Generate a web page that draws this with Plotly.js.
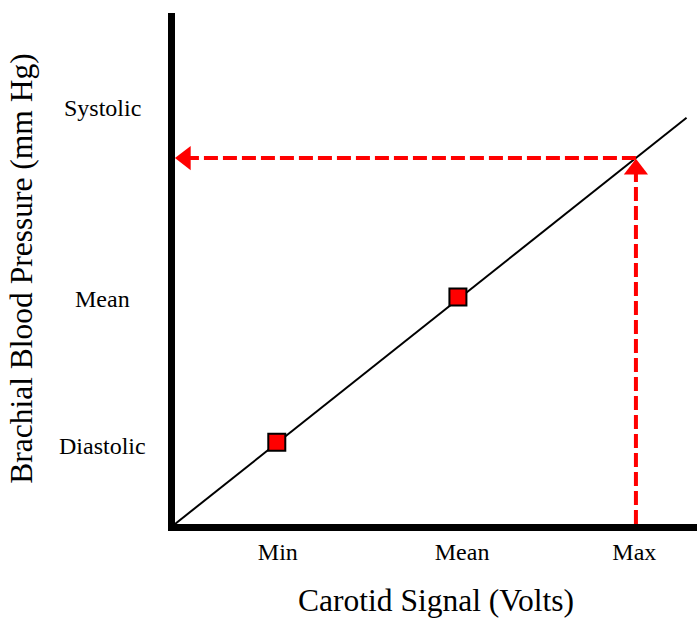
<!DOCTYPE html>
<html>
<head>
<meta charset="utf-8">
<script src="https://cdn.plot.ly/plotly-3.0.1.min.js"></script>
<style>html,body{margin:0;padding:0;background:#fff;}#chart{width:697px;height:618px;}</style>
</head>
<body>
<div id="chart"></div>
<script>
// Categories / tick labels
const xTickLabels = ["Min", "Mean", "Max"];
const xTickVals = [1.97, 5.5, 8.8];
const yTickLabels = ["Diastolic", "Mean", "Systolic"];
const yTickVals = [1.53, 4.4, 8.15];

// Calibration line (carotid signal -> brachial pressure)
const lineX = [0, 9.8];
const lineY = [0, 7.95];

// Calibration points (min / mean)
const pointX = [1.95, 5.42];
const pointY = [1.6, 4.44];

// Readout at max signal
const maxSignal = 8.83;
const maxPressure = 7.16;
const vArrowX = [maxSignal, maxSignal];
const vArrowY = [0, 6.9];
const hArrowX = [maxSignal, 0.25];
const hArrowY = [maxPressure, maxPressure];
const headUp = {x: [maxSignal], y: [6.94]};
const headLeft = {x: [0.2], y: [maxPressure]};

const serif = "Liberation Serif, Times New Roman, serif";
const red = "#ff0000";

const traces = [
  {x: lineX, y: lineY, mode: "lines", line: {color: "#000", width: 2}, hoverinfo: "skip"},
  {x: vArrowX, y: vArrowY, mode: "lines", line: {color: red, width: 4, dash: "14px,5px"}, hoverinfo: "skip"},
  {x: hArrowX, y: hArrowY, mode: "lines", line: {color: red, width: 4, dash: "14px,5px"}, hoverinfo: "skip"},
  {x: headUp.x, y: headUp.y, mode: "markers", marker: {symbol: "triangle-up", size: 21, color: red, line: {width: 0}}, cliponaxis: false, hoverinfo: "skip"},
  {x: headLeft.x, y: headLeft.y, mode: "markers", marker: {symbol: "triangle-left", size: 21, color: red, line: {width: 0}}, cliponaxis: false, hoverinfo: "skip"},
  {x: pointX, y: pointY, mode: "markers", marker: {symbol: "square", size: 17, color: red, line: {color: "#000", width: 2}}, cliponaxis: false, hoverinfo: "skip"}
];

const annotations = yTickLabels.map((t, i) => ({
  text: t, xref: "paper", yref: "y", x: -0.138, y: yTickVals[i],
  xanchor: "center", yanchor: "middle", showarrow: false,
  font: {family: serif, size: 24, color: "#000"}
}));

const layout = {
  width: 697, height: 618,
  margin: {l: 175, r: 0, t: 13, b: 94},
  paper_bgcolor: "#fff", plot_bgcolor: "#fff",
  showlegend: false,
  xaxis: {
    range: [0, 10], showgrid: false, zeroline: false,
    showline: true, linecolor: "#000", linewidth: 7,
    tickmode: "array", tickvals: xTickVals, ticktext: xTickLabels,
    ticks: "", tickfont: {family: serif, size: 24, color: "#000"},
    title: {text: "Carotid Signal (Volts)", font: {family: serif, size: 31.5, color: "#000"}, standoff: 30},
    fixedrange: true
  },
  yaxis: {
    range: [0, 10], showgrid: false, zeroline: false,
    showline: true, linecolor: "#000", linewidth: 7,
    showticklabels: false, ticks: "",
    title: {text: "Brachial Blood Pressure (mm Hg)", font: {family: serif, size: 31.5, color: "#000"}, standoff: 128},
    fixedrange: true
  },
  annotations: annotations
};

Plotly.newPlot("chart", traces, layout, {displayModeBar: false, staticPlot: true});
</script>
</body>
</html>
